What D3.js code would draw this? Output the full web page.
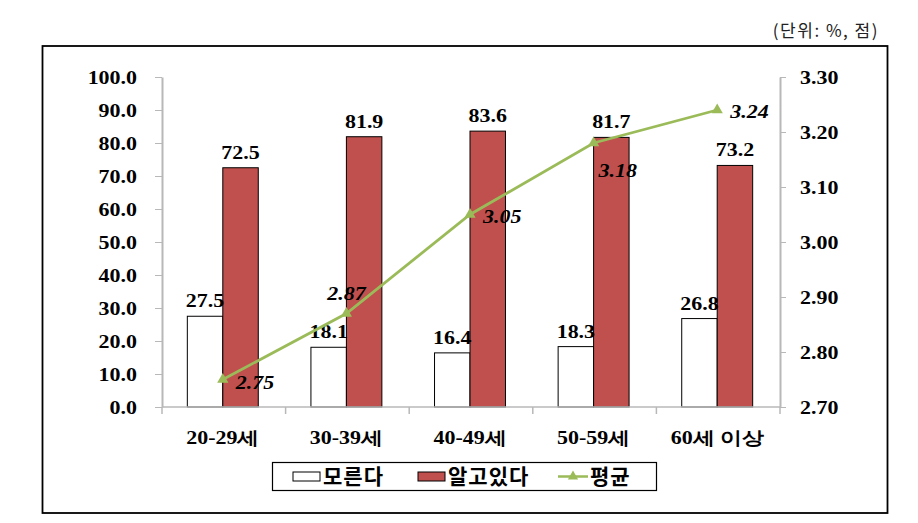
<!DOCTYPE html>
<html><head><meta charset="utf-8">
<script src="https://cdn.jsdelivr.net/npm/d3@7"></script>
<style>body{margin:0;background:#fff;} svg{display:block}</style>
</head><body><svg id="c" width="918" height="523"></svg>
<script>
const categories = ["20-29세","30-39세","40-49세","50-59세","60세 이상"];
const dontKnow = [27.5,18.1,16.4,18.3,26.8];
const know = [72.5,81.9,83.6,81.7,73.2];
const average = [2.75,2.87,3.05,3.18,3.24];
const leftTicks = [0,10,20,30,40,50,60,70,80,90,100];
const rightTicks = [2.7,2.8,2.9,3.0,3.1,3.2,3.3];
const seriesNames = ["모른다","알고있다","평균"];
const unitLabel = "(단위: %, 점)";

// label placement offsets for the average line (layout only)
const avgLabelOffsets = [[13,9],[0,-14],[13,8],[5,34],[13,8]];
const avgLabelAnchors = ["start","middle","start","start","start"];

const svg = d3.select("#c");
const m = {l:162, r:780, t:77, b:407};
const x = d3.scaleBand().domain(categories).range([m.l,m.r]).paddingInner(0).paddingOuter(0);
const yL = d3.scaleLinear().domain([0,100]).range([m.b,m.t]);
const yR = d3.scaleLinear().domain([2.7,3.3]).range([m.b,m.t]);
const SX = 1.22;
const serif = "'Liberation Serif','Times New Roman',serif";
const kr = "'Noto Sans CJK KR','Noto Sans',sans-serif";
const RED = "#C0504D", GREEN = "#9BBB59", AXIS = "#b8b8b8";

function stext(g, px, py, txt, anchor, size, italic){
  return g.append("text")
    .attr("transform", `translate(${px},${py}) scale(${SX},1)`)
    .attr("text-anchor", anchor)
    .style("font-family", serif)
    .style("font-weight", "bold")
    .style("font-style", italic ? "italic" : "normal")
    .style("font-size", size + "px")
    .attr("fill", "#000")
    .text(txt);
}

// outer frame
svg.append("rect").attr("x",42.5).attr("y",46).attr("width",845).attr("height",467)
  .attr("fill","none").attr("stroke","#000").attr("stroke-width",1.8);

// unit label
svg.append("text").attr("x",879).attr("y",37).attr("text-anchor","end")
  .style("font-family",kr).style("font-size","17px").style("letter-spacing","1.5px")
  .attr("fill","#222").text(unitLabel);

// bars
const bw = x.bandwidth()*0.287;
const cx = c => x(c) + x.bandwidth()/2 - 1;
const gBars = svg.append("g");
gBars.selectAll("rect.dk").data(categories).join("rect").attr("class","dk")
  .attr("x", c => cx(c) - bw).attr("width", bw)
  .attr("y", (c,i) => yL(dontKnow[i])).attr("height", (c,i) => yL(0)-yL(dontKnow[i]))
  .attr("fill","#fff").attr("stroke","#000").attr("stroke-width",1);
gBars.selectAll("rect.kn").data(categories).join("rect").attr("class","kn")
  .attr("x", c => cx(c)).attr("width", bw)
  .attr("y", (c,i) => yL(know[i])).attr("height", (c,i) => yL(0)-yL(know[i]))
  .attr("fill",RED).attr("stroke","#000").attr("stroke-width",1);

// left axis
const axL = svg.append("g").attr("transform",`translate(${m.l},0)`)
  .call(d3.axisLeft(yL).tickValues(leftTicks).tickFormat(d3.format(".1f")).tickSize(7).tickSizeOuter(0));
axL.select(".domain").attr("stroke",AXIS).attr("stroke-width",2);
axL.selectAll(".tick line").attr("stroke",AXIS);
axL.selectAll(".tick text").attr("x",null).attr("dy",null)
  .attr("transform",`translate(-25,6) scale(${SX},1)`)
  .style("font-family",serif).style("font-weight","bold").style("font-size","18px").attr("fill","#000");

// right axis
const axR = svg.append("g").attr("transform",`translate(${m.r},0)`)
  .call(d3.axisRight(yR).tickValues(rightTicks).tickFormat(d3.format(".2f")).tickSize(6).tickSizeOuter(0));
axR.select(".domain").attr("stroke",AXIS).attr("stroke-width",2);
axR.selectAll(".tick line").attr("stroke",AXIS);
axR.selectAll(".tick text").attr("x",null).attr("dy",null)
  .attr("transform",`translate(20,6) scale(${SX},1)`)
  .style("font-family",serif).style("font-weight","bold").style("font-size","18px").attr("fill","#000");

// x axis
const gx = svg.append("g");
gx.append("line").attr("x1",m.l).attr("x2",m.r).attr("y1",m.b).attr("y2",m.b).attr("stroke",AXIS).attr("stroke-width",1.5);
const bounds = categories.map(c => x(c)).concat([m.r]);
gx.selectAll("line.tk").data(bounds).join("line").attr("class","tk")
  .attr("x1",d=>d).attr("x2",d=>d).attr("y1",m.b).attr("y2",m.b+7).attr("stroke",AXIS).attr("stroke-width",1.5);
categories.forEach(c => stext(gx, cx(c), 444, c, "middle", 18, false));

// bar value labels
const gl = svg.append("g");
categories.forEach((c,i) => {
  stext(gl, cx(c) - bw/2, yL(dontKnow[i]) - 9, dontKnow[i].toFixed(1), "middle", 18, false);
  stext(gl, cx(c) + bw/2, yL(know[i]) - 9, know[i].toFixed(1), "middle", 18, false);
});

// average line
const line = d3.line().x((d,i) => cx(categories[i])).y(d => yR(d));
svg.append("path").datum(average).attr("d", line).attr("fill","none")
  .attr("stroke",GREEN).attr("stroke-width",2.8);
const tri = d3.symbol().type(d3.symbolTriangle).size(55);
svg.selectAll("path.mk").data(average).join("path").attr("class","mk")
  .attr("d", tri).attr("fill",GREEN)
  .attr("transform",(d,i) => `translate(${cx(categories[i])},${yR(d)})`);
average.forEach((v,i) => {
  const o = avgLabelOffsets[i];
  stext(svg, cx(categories[i]) + o[0], yR(v) + o[1], v.toFixed(2), avgLabelAnchors[i], 18, true);
});

// legend
const lg = svg.append("g");
lg.append("rect").attr("x",272.5).attr("y",462.5).attr("width",384).attr("height",28)
  .attr("fill","#fff").attr("stroke","#000").attr("stroke-width",1.2);
const lfont = g => g.style("font-family",kr).style("font-weight","bold").style("font-size","21px")
  .style("letter-spacing","1px").attr("fill","#000");
lg.append("rect").attr("x",293).attr("y",472).attr("width",27).attr("height",9).attr("fill","#fff").attr("stroke","#000");
lfont(lg.append("text").attr("x",323).attr("y",484).text(seriesNames[0]));
lg.append("rect").attr("x",418).attr("y",472).attr("width",27).attr("height",9).attr("fill",RED).attr("stroke","#000");
lfont(lg.append("text").attr("x",448).attr("y",484).text(seriesNames[1]));
lg.append("line").attr("x1",558).attr("x2",588).attr("y1",476.5).attr("y2",476.5).attr("stroke",GREEN).attr("stroke-width",2.5);
lg.append("path").attr("d",d3.symbol().type(d3.symbolTriangle).size(45)).attr("fill",GREEN).attr("transform","translate(573,476.5)");
lfont(lg.append("text").attr("x",590).attr("y",484).text(seriesNames[2]));
</script></body></html>
